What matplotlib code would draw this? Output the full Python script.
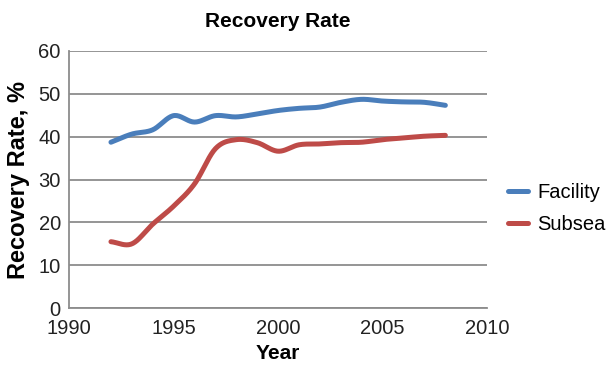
import matplotlib
matplotlib.use('Agg')
import matplotlib.pyplot as plt
import numpy as np

years = [1992, 1993, 1994, 1995, 1996, 1997, 1998, 1999, 2000,
         2001, 2002, 2003, 2004, 2005, 2006, 2007, 2008]
facility = [38.7, 40.6, 41.6, 44.9, 43.4, 44.9, 44.6, 45.3, 46.1,
            46.6, 46.9, 48.0, 48.7, 48.3, 48.1, 48.0, 47.3]
subsea = [15.5, 15.0, 19.6, 23.8, 29.0, 37.2, 39.3, 38.6, 36.6,
          38.1, 38.3, 38.6, 38.7, 39.3, 39.7, 40.1, 40.3]


def smooth(xs, ys, n=20):
    # catmull-rom, roughly what Excel does for "smoothed line"
    x = np.asarray(xs, float)
    y = np.asarray(ys, float)
    px = np.concatenate([[2 * x[0] - x[1]], x, [2 * x[-1] - x[-2]]])
    py = np.concatenate([[2 * y[0] - y[1]], y, [2 * y[-1] - y[-2]]])
    t = np.linspace(0, 1, n, endpoint=False)
    outx, outy = [], []
    for i in range(1, len(px) - 2):
        for p, out in ((px, outx), (py, outy)):
            p0, p1, p2, p3 = p[i - 1], p[i], p[i + 1], p[i + 2]
            out.extend(0.5 * (2 * p1 + (-p0 + p2) * t
                              + (2 * p0 - 5 * p1 + 4 * p2 - p3) * t ** 2
                              + (-p0 + 3 * p1 - 3 * p2 + p3) * t ** 3))
    outx.append(x[-1])
    outy.append(y[-1])
    return outx, outy


plt.rcParams['font.family'] = ['Liberation Sans', 'DejaVu Sans']

fig = plt.figure(figsize=(6.12, 3.66), dpi=100)
ax = fig.add_axes([0.113, 0.158, 0.683, 0.703])

fx, fy = smooth(years, facility)
sx, sy = smooth(years, subsea)
ax.plot(fx, fy, color='#4a7ebb', lw=3.6, solid_capstyle='round', label='Facility')
ax.plot(sx, sy, color='#be4b48', lw=3.6, solid_capstyle='round', label='Subsea')

ax.set_xlim(1990, 2010)
ax.set_ylim(0, 60)
ax.set_xticks([1990, 1995, 2000, 2005, 2010])
ax.set_yticks(range(0, 61, 10))
ax.yaxis.grid(True, color='#8c8c8c', lw=1.3)
ax.set_axisbelow(True)
for s in ['top', 'right']:
    ax.spines[s].set_visible(False)
for s in ['left', 'bottom']:
    ax.spines[s].set_color('#8c8c8c')
    ax.spines[s].set_linewidth(1.3)
ax.tick_params(length=0, labelsize=14.5, colors='#222222')
ax.tick_params(axis='y', pad=6)
ax.tick_params(axis='x', pad=8)

ax.set_title('Recovery Rate', fontsize=15, fontweight='bold', pad=17)
ax.set_xlabel('Year', fontsize=15, fontweight='bold', labelpad=4)
ax.set_ylabel('Recovery Rate, %', fontsize=17, fontweight='bold', labelpad=6)

ax.legend(loc='center left', bbox_to_anchor=(0.83, 0.43), bbox_transform=fig.transFigure,
          frameon=False, fontsize=14.5, handlelength=1.0, handletextpad=0.45,
          labelspacing=0.65, borderaxespad=0, borderpad=0)

fig.savefig('out.png', dpi=100)
